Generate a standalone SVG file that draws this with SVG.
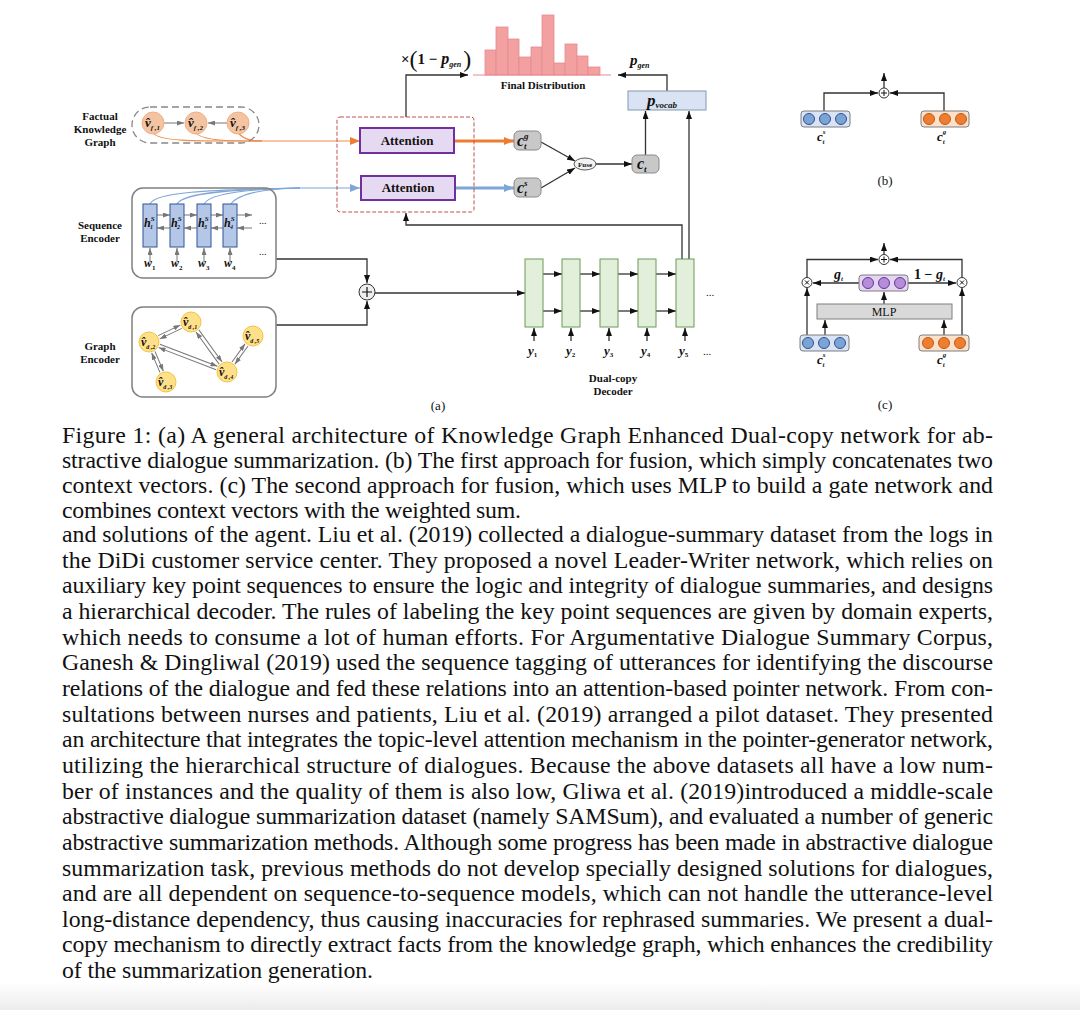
<svg xmlns="http://www.w3.org/2000/svg" width="1080" height="1010" viewBox="0 0 1080 1010">
<defs>
<linearGradient id="bg" x1="0" y1="0" x2="0" y2="1"><stop offset="0" stop-color="#ffffff"/><stop offset="1" stop-color="#ececec"/></linearGradient>
<marker id="ak" markerWidth="8" markerHeight="6" refX="8" refY="3" orient="auto" markerUnits="userSpaceOnUse"><path d="M0,0 L8,3 L0,6 z" fill="#111"/></marker>
<marker id="ag" markerWidth="7" markerHeight="5" refX="7" refY="2.5" orient="auto" markerUnits="userSpaceOnUse"><path d="M0,0 L7,2.5 L0,5 z" fill="#777"/></marker>
<marker id="ao" markerWidth="10" markerHeight="8" refX="10" refY="4" orient="auto" markerUnits="userSpaceOnUse"><path d="M0,0 L10,4 L0,8 z" fill="#ed7d31"/></marker>
<marker id="ab" markerWidth="10" markerHeight="8" refX="10" refY="4" orient="auto" markerUnits="userSpaceOnUse"><path d="M0,0 L10,4 L0,8 z" fill="#7fa6d8"/></marker>
</defs>
<style>
.t{font-family:"Liberation Serif","Times New Roman",serif;font-size:23.8px;fill:#111}
.lb{font-family:"Liberation Serif","Times New Roman",serif;font-weight:bold;font-size:11px;fill:#111;text-anchor:middle}
.att{font-family:"Liberation Serif",serif;font-weight:bold;font-size:13px;fill:#111;text-anchor:middle}
.mi{font-family:"Liberation Serif",serif;font-weight:bold;font-style:italic;fill:#111}
.rm{font-family:"Liberation Serif",serif;fill:#111}
.ln{fill:none;stroke:#333;stroke-width:1.3}
.lg{fill:none;stroke:#777;stroke-width:1}
.fk{fill:#f4c4a2;stroke:#f0b088;stroke-width:1}
.gd{fill:#ffe08a;stroke:#f2c43e;stroke-width:1}
.hc{fill:#b4c7e7;stroke:#2f5597;stroke-width:1}
.dc{fill:#e2efda;stroke:#6d9a57;stroke-width:1}
.gbox{fill:#c8c8c8;stroke:#8a8a8a;stroke-width:1}
.bar{fill:#f2a0a0;stroke:#e58a8f;stroke-width:0.8}
.attb{fill:#e6d9f2;stroke:#7030a0;stroke-width:2}
.vb{fill:#dae3f3;stroke:#7f7f7f;stroke-width:1}
.vo{fill:#fbe0cc;stroke:#7f7f7f;stroke-width:1}
.vp{fill:#e4d5f0;stroke:#7f7f7f;stroke-width:1}
.cb{fill:#7ba3d4;stroke:#2f5597;stroke-width:1}
.co{fill:#ed7d31;stroke:#c55a11;stroke-width:1}
.cp{fill:#b48fd8;stroke:#7030a0;stroke-width:1}
.op{fill:#fff;stroke:#333;stroke-width:1}
</style>
<rect x="0" y="0" width="1080" height="1010" fill="#fff"/>
<rect x="0" y="982" width="1080" height="28" fill="url(#bg)"/>

<g id="labels">
<text class="lb" x="100" y="120">Factual</text>
<text class="lb" x="100" y="133">Knowledge</text>
<text class="lb" x="100" y="146">Graph</text>
<text class="lb" x="100" y="229">Sequence</text>
<text class="lb" x="100" y="242">Encoder</text>
<text class="lb" x="100" y="350">Graph</text>
<text class="lb" x="100" y="363">Encoder</text>
<text class="lb" x="543" y="89">Final Distribution</text>
<text class="lb" x="613" y="382">Dual-copy</text>
<text class="lb" x="613" y="395">Decoder</text>
<text class="rm" x="438" y="410" font-size="13" text-anchor="middle">(a)</text>
<text class="rm" x="885" y="185" font-size="13" text-anchor="middle">(b)</text>
<text class="rm" x="885" y="409" font-size="13" text-anchor="middle">(c)</text>
</g>

<g id="connectors">
<path d="M153,133 C160,142 200,141 260,141 L360,141" fill="none" stroke="#ef8e4f" stroke-width="1.1" marker-end="url(#ao)"/>
<path d="M196,133 C203,141 230,141 262,141" fill="none" stroke="#ef8e4f" stroke-width="1.1"/>
<path d="M238,133 C245,140 252,141 262,141" fill="none" stroke="#ef8e4f" stroke-width="1.1"/>
<path d="M150,204 C156,190 230,190 300,188 L360,188" fill="none" stroke="#7fa6d8" stroke-width="1.1" marker-end="url(#ab)"/>
<path d="M177,204 C183,192 240,189 300,188" fill="none" stroke="#7fa6d8" stroke-width="1.1"/>
<path d="M204,204 C210,193 250,189 300,188" fill="none" stroke="#7fa6d8" stroke-width="1.1"/>
<path d="M231,204 C237,195 260,189 300,188" fill="none" stroke="#7fa6d8" stroke-width="1.1"/>
<line class="lg" x1="164" y1="123" x2="184" y2="123" marker-end="url(#ag)"/>
<line class="lg" x1="227" y1="123" x2="208" y2="123" marker-end="url(#ag)"/>
<line x1="454" y1="141" x2="514" y2="141" stroke="#ed7d31" stroke-width="3" marker-end="url(#ao)"/>
<line x1="455" y1="188" x2="514" y2="188" stroke="#7fa6d8" stroke-width="3" marker-end="url(#ab)"/>
<line class="ln" x1="541" y1="142" x2="575" y2="161" marker-end="url(#ak)"/>
<line class="ln" x1="541" y1="188" x2="575" y2="168" marker-end="url(#ak)"/>
<line class="ln" x1="596" y1="164" x2="632" y2="164" marker-end="url(#ak)"/>
<line class="ln" x1="645.5" y1="155" x2="645.5" y2="111" marker-end="url(#ak)"/>
<polyline class="ln" points="667,91 667,75 618,75" marker-end="url(#ak)"/>
<polyline class="ln" points="406,117 406,75 468,75" marker-end="url(#ak)"/>
<polyline class="ln" points="682,259 682,225 406,225 406,213" marker-end="url(#ak)"/>
<line class="ln" x1="689" y1="259" x2="689" y2="111" marker-end="url(#ak)"/>
<polyline class="ln" points="276,259 367,259 367,283" marker-end="url(#ak)"/>
<polyline class="ln" points="276,325 367,325 367,301" marker-end="url(#ak)"/>
<line class="ln" x1="375" y1="293" x2="525" y2="293" marker-end="url(#ak)"/>
<g class="lg">
<line x1="157" y1="215" x2="170" y2="215" marker-end="url(#ag)"/>
<line x1="184" y1="215" x2="197" y2="215" marker-end="url(#ag)"/>
<line x1="211" y1="215" x2="223" y2="215" marker-end="url(#ag)"/>
<line x1="237" y1="215" x2="252" y2="215" marker-end="url(#ag)"/>
<line x1="170" y1="228" x2="157" y2="228" marker-end="url(#ag)"/>
<line x1="197" y1="228" x2="184" y2="228" marker-end="url(#ag)"/>
<line x1="223" y1="228" x2="211" y2="228" marker-end="url(#ag)"/>
<line x1="252" y1="228" x2="237" y2="228" marker-end="url(#ag)"/>
<line x1="150" y1="262" x2="150" y2="248" marker-end="url(#ag)"/>
<line x1="177" y1="262" x2="177" y2="248" marker-end="url(#ag)"/>
<line x1="204" y1="262" x2="204" y2="248" marker-end="url(#ag)"/>
<line x1="230" y1="262" x2="230" y2="248" marker-end="url(#ag)"/>
</g>
<g class="ln">
<line x1="543" y1="274" x2="562" y2="274" marker-end="url(#ak)"/>
<line x1="580" y1="274" x2="600" y2="274" marker-end="url(#ak)"/>
<line x1="618" y1="274" x2="638" y2="274" marker-end="url(#ak)"/>
<line x1="656" y1="274" x2="676" y2="274" marker-end="url(#ak)"/>
<line x1="543" y1="311" x2="562" y2="311" marker-end="url(#ak)"/>
<line x1="580" y1="311" x2="600" y2="311" marker-end="url(#ak)"/>
<line x1="618" y1="311" x2="638" y2="311" marker-end="url(#ak)"/>
<line x1="656" y1="311" x2="676" y2="311" marker-end="url(#ak)"/>
<line x1="534" y1="341" x2="534" y2="328" marker-end="url(#ak)"/>
<line x1="571" y1="341" x2="571" y2="328" marker-end="url(#ak)"/>
<line x1="609" y1="341" x2="609" y2="328" marker-end="url(#ak)"/>
<line x1="647" y1="341" x2="647" y2="328" marker-end="url(#ak)"/>
<line x1="685" y1="341" x2="685" y2="328" marker-end="url(#ak)"/>
</g>
<g class="lg">
<g transform="translate(149,342) rotate(-25.5)"><line x1="11" y1="-1.8" x2="35.5" y2="-1.8" marker-end="url(#ag)"/><line x1="35.5" y1="1.8" x2="11" y2="1.8" marker-end="url(#ag)"/></g>
<g transform="translate(149,342) rotate(67)"><line x1="11" y1="-1.8" x2="32.5" y2="-1.8" marker-end="url(#ag)"/><line x1="32.5" y1="1.8" x2="11" y2="1.8" marker-end="url(#ag)"/></g>
<g transform="translate(149,342) rotate(21)"><line x1="11" y1="-1.8" x2="72.6" y2="-1.8" marker-end="url(#ag)"/><line x1="72.6" y1="1.8" x2="11" y2="1.8" marker-end="url(#ag)"/></g>
<g transform="translate(191,322) rotate(54.2)"><line x1="11" y1="-1.8" x2="50.6" y2="-1.8" marker-end="url(#ag)"/><line x1="50.6" y1="1.8" x2="11" y2="1.8" marker-end="url(#ag)"/></g>
<g transform="translate(227,372) rotate(-54.2)"><line x1="11" y1="-1.8" x2="33.4" y2="-1.8" marker-end="url(#ag)"/><line x1="33.4" y1="1.8" x2="11" y2="1.8" marker-end="url(#ag)"/></g>
</g>
<polyline class="ln" points="824,111 824,93 878,93" marker-end="url(#ak)"/>
<polyline class="ln" points="944,111 944,93 890,93" marker-end="url(#ak)"/>
<line class="ln" x1="884" y1="88" x2="884" y2="73" marker-end="url(#ak)"/>
<line class="ln" x1="884" y1="254" x2="884" y2="243" marker-end="url(#ak)"/>
<polyline class="ln" points="807,277 807,259.5 878,259.5" marker-end="url(#ak)"/>
<polyline class="ln" points="962,277 962,259.5 890,259.5" marker-end="url(#ak)"/>
<line class="ln" x1="859" y1="283" x2="813" y2="283" marker-end="url(#ak)"/>
<line class="ln" x1="908" y1="283" x2="956" y2="283" marker-end="url(#ak)"/>
<line class="ln" x1="884" y1="304" x2="884" y2="292" marker-end="url(#ak)"/>
<line class="ln" x1="807" y1="335" x2="807" y2="288" marker-end="url(#ak)"/>
<line class="ln" x1="825" y1="335" x2="825" y2="320" marker-end="url(#ak)"/>
<line class="ln" x1="944" y1="335" x2="944" y2="320" marker-end="url(#ak)"/>
<line class="ln" x1="962" y1="335" x2="962" y2="288" marker-end="url(#ak)"/>
</g>

<g id="final-distribution">
<rect class="bar" x="485" y="50" width="11" height="25"/>
<rect class="bar" x="496" y="27" width="12" height="48"/>
<rect class="bar" x="508" y="39" width="11" height="36"/>
<rect class="bar" x="519" y="57" width="12" height="18"/>
<rect class="bar" x="531" y="47" width="11" height="28"/>
<rect class="bar" x="542" y="15" width="12" height="60"/>
<rect class="bar" x="554" y="63" width="11" height="12"/>
<rect class="bar" x="565" y="44" width="12" height="31"/>
<rect class="bar" x="577" y="56" width="11" height="19"/>
<rect class="bar" x="588" y="67" width="12" height="8"/>
<line x1="473" y1="75" x2="611" y2="75" stroke="#e58a8f" stroke-width="1"/>
</g>
<g id="one-minus-pgen">
<text class="rm" x="401" y="64" font-size="15" font-weight="bold">×<tspan font-size="24" font-weight="normal" dy="3">(</tspan><tspan dy="-3">1 − </tspan><tspan font-style="italic" font-size="16">p</tspan><tspan font-style="italic" font-size="8" dy="3">gen</tspan><tspan font-size="24" font-weight="normal" dx="2">)</tspan></text>
</g>
<g id="pgen">
<text class="mi" x="630" y="65" font-size="15">p<tspan font-size="8" dy="3">gen</tspan></text>
</g>
<g id="pvocab">
<rect x="628" y="91" width="78" height="19" fill="#dae3f3" stroke="#8497b0" stroke-width="1"/>
<text class="mi" x="647" y="106" font-size="17">p<tspan font-size="9" dy="2">vocab</tspan></text>
</g>

<g id="attention-module">
<rect x="337" y="117" width="137" height="95" rx="3" fill="none" stroke="#c0504d" stroke-width="1" stroke-dasharray="4 2"/>
</g>
<g id="attention-graph">
<rect class="attb" x="360" y="128" width="94" height="25"/>
<text class="att" x="407" y="145">Attention</text>
</g>
<g id="attention-seq">
<rect class="attb" x="361" y="176" width="94" height="24"/>
<text class="att" x="408" y="192">Attention</text>
</g>
<g id="ctg">
<rect class="gbox" x="514" y="131" width="27" height="19" rx="5"/>
<text class="mi" x="517" y="146" font-size="16">c<tspan font-size="9" dy="-7">g</tspan><tspan font-size="9" dx="-4.5" dy="10">t</tspan></text>
</g>
<g id="cts">
<rect class="gbox" x="514" y="178" width="27" height="19" rx="5"/>
<text class="mi" x="517" y="193" font-size="16">c<tspan font-size="9" dy="-7">s</tspan><tspan font-size="9" dx="-3.5" dy="10">t</tspan></text>
</g>
<g id="fuse">
<ellipse cx="585" cy="164" rx="11" ry="6" fill="#f2f2f2" stroke="#333" stroke-width="0.8"/>
<text class="rm" x="585" y="166.5" font-size="7" font-weight="bold" text-anchor="middle">Fuse</text>
</g>
<g id="ct">
<rect class="gbox" x="632" y="155" width="27" height="18" rx="5"/>
<text class="mi" x="637" y="169" font-size="16">c<tspan font-size="9" dy="3">t</tspan></text>
</g>

<g id="factual-kg">
<rect x="132" y="107" width="127" height="36" rx="18" fill="none" stroke="#888" stroke-width="1.3" stroke-dasharray="7 4"/>
<circle class="fk" cx="153" cy="123" r="11"/>
<circle class="fk" cx="196" cy="123" r="11"/>
<circle class="fk" cx="238" cy="123" r="11"/>
<text class="mi" x="145" y="127" font-size="13">v̂<tspan font-size="7" dy="3">f ,1</tspan></text>
<text class="mi" x="188" y="127" font-size="13">v̂<tspan font-size="7" dy="3">f ,2</tspan></text>
<text class="mi" x="230" y="127" font-size="13">v̂<tspan font-size="7" dy="3">f ,3</tspan></text>
</g>

<g id="sequence-encoder">
<rect x="132" y="188" width="144" height="90" rx="11" fill="none" stroke="#808080" stroke-width="1.5"/>
<rect class="hc" x="143" y="204" width="14" height="43"/>
<rect class="hc" x="170" y="204" width="14" height="43"/>
<rect class="hc" x="197" y="204" width="14" height="43"/>
<rect class="hc" x="223" y="204" width="14" height="43"/>
<text class="mi" x="144" y="227" font-size="12">h<tspan font-size="7" dy="-6">S</tspan><tspan font-size="6" dx="-4.5" dy="8">1</tspan></text>
<text class="mi" x="171" y="227" font-size="12">h<tspan font-size="7" dy="-6">S</tspan><tspan font-size="6" dx="-4.5" dy="8">2</tspan></text>
<text class="mi" x="198" y="227" font-size="12">h<tspan font-size="7" dy="-6">S</tspan><tspan font-size="6" dx="-4.5" dy="8">3</tspan></text>
<text class="mi" x="224" y="227" font-size="12">h<tspan font-size="7" dy="-6">S</tspan><tspan font-size="6" dx="-4.5" dy="8">4</tspan></text>
<text class="mi" x="144" y="267" font-size="12">w<tspan font-size="7" font-style="normal" dy="3">1</tspan></text>
<text class="mi" x="171" y="267" font-size="12">w<tspan font-size="7" font-style="normal" dy="3">2</tspan></text>
<text class="mi" x="198" y="267" font-size="12">w<tspan font-size="7" font-style="normal" dy="3">3</tspan></text>
<text class="mi" x="224" y="267" font-size="12">w<tspan font-size="7" font-style="normal" dy="3">4</tspan></text>
<text class="rm" x="259" y="224" font-size="10">...</text>
<text class="rm" x="259" y="255" font-size="10">...</text>
</g>

<g id="graph-encoder">
<rect x="132" y="307" width="144" height="90" rx="11" fill="none" stroke="#808080" stroke-width="1.5"/>
<circle class="gd" cx="191" cy="322" r="10"/>
<circle class="gd" cx="149" cy="342" r="10"/>
<circle class="gd" cx="166" cy="382" r="10"/>
<circle class="gd" cx="227" cy="372" r="10"/>
<circle class="gd" cx="253" cy="336" r="10"/>
<text class="mi" x="183" y="326" font-size="12">v̂<tspan font-size="6" dy="3">d ,1</tspan></text>
<text class="mi" x="141" y="346" font-size="12">v̂<tspan font-size="6" dy="3">d ,2</tspan></text>
<text class="mi" x="158" y="386" font-size="12">v̂<tspan font-size="6" dy="3">d ,3</tspan></text>
<text class="mi" x="219" y="376" font-size="12">v̂<tspan font-size="6" dy="3">d ,4</tspan></text>
<text class="mi" x="245" y="340" font-size="12">v̂<tspan font-size="6" dy="3">d ,5</tspan></text>
</g>

<g id="plus">
<circle cx="367" cy="292" r="8" fill="#eee" stroke="#333" stroke-width="1"/>
<path d="M362,292 H372 M367,287 V297" stroke="#111" stroke-width="1.2"/>
</g>

<g id="decoder">
<rect class="dc" x="525" y="259" width="18" height="68"/>
<rect class="dc" x="562" y="259" width="18" height="68"/>
<rect class="dc" x="600" y="259" width="18" height="68"/>
<rect class="dc" x="638" y="259" width="18" height="68"/>
<rect class="dc" x="676" y="259" width="18" height="68"/>
<text class="rm" x="706" y="296" font-size="11">...</text>
<text class="mi" x="528" y="355" font-size="13">y<tspan font-size="7" font-style="normal" dy="2">1</tspan></text>
<text class="mi" x="566" y="355" font-size="13">y<tspan font-size="7" font-style="normal" dy="2">2</tspan></text>
<text class="mi" x="604" y="355" font-size="13">y<tspan font-size="7" font-style="normal" dy="2">3</tspan></text>
<text class="mi" x="641" y="355" font-size="13">y<tspan font-size="7" font-style="normal" dy="2">4</tspan></text>
<text class="mi" x="679" y="355" font-size="13">y<tspan font-size="7" font-style="normal" dy="2">5</tspan></text>
<text class="rm" x="703" y="355" font-size="11">...</text>
</g>

<g id="b-plus">
<circle class="op" cx="884" cy="93" r="5"/>
<path d="M881,93 H887 M884,90 V96" stroke="#111" stroke-width="1"/>
</g>
<g id="b-cs">
<rect class="vb" x="801" y="111" width="49" height="16" rx="3"/>
<circle class="cb" cx="809" cy="119" r="5.5"/><circle class="cb" cx="825" cy="119" r="5.5"/><circle class="cb" cx="841" cy="119" r="5.5"/>
<text class="mi" x="817" y="141" font-size="13">c<tspan font-size="7" dy="-7">s</tspan><tspan font-size="7" dx="-3" dy="10">t</tspan></text>
</g>
<g id="b-cg">
<rect class="vo" x="921" y="111" width="48" height="16" rx="3"/>
<circle class="co" cx="929" cy="119" r="5.5"/><circle class="co" cx="945" cy="119" r="5.5"/><circle class="co" cx="961" cy="119" r="5.5"/>
<text class="mi" x="937" y="141" font-size="13">c<tspan font-size="7" dy="-7">g</tspan><tspan font-size="7" dx="-3.5" dy="10">t</tspan></text>
</g>

<g id="c-plus">
<circle class="op" cx="884" cy="259.5" r="5"/>
<path d="M881,259.5 H887 M884,256.5 V262.5" stroke="#111" stroke-width="1"/>
</g>
<g id="c-times-left">
<circle class="op" cx="807" cy="282.5" r="5"/>
<path d="M805,280.5 L809,284.5 M809,280.5 L805,284.5" stroke="#111" stroke-width="1"/>
</g>
<g id="c-times-right">
<circle class="op" cx="962" cy="282.5" r="5"/>
<path d="M960,280.5 L964,284.5 M964,280.5 L960,284.5" stroke="#111" stroke-width="1"/>
</g>
<g id="c-gate">
<rect class="vp" x="859" y="275" width="49" height="16" rx="3"/>
<circle class="cp" cx="868" cy="283" r="5.5"/><circle class="cp" cx="884" cy="283" r="5.5"/><circle class="cp" cx="900" cy="283" r="5.5"/>
<text class="mi" x="834" y="279" font-size="14">g<tspan font-size="7" dy="2">t</tspan></text>
<text class="rm" x="914" y="279" font-size="14" font-weight="bold">1 − <tspan font-style="italic">g</tspan><tspan font-style="italic" font-size="7" dy="2">t</tspan></text>
</g>
<g id="c-mlp">
<rect x="817" y="304" width="135" height="15" fill="#d9d9d9" stroke="#7f7f7f" stroke-width="1"/>
<text class="rm" x="884" y="316" font-size="12" text-anchor="middle">MLP</text>
</g>
<g id="c-cs">
<rect class="vb" x="800" y="335" width="49" height="16" rx="3"/>
<circle class="cb" cx="808" cy="343" r="5.5"/><circle class="cb" cx="824" cy="343" r="5.5"/><circle class="cb" cx="840" cy="343" r="5.5"/>
<text class="mi" x="817" y="364" font-size="13">c<tspan font-size="7" dy="-7">s</tspan><tspan font-size="7" dx="-3" dy="10">t</tspan></text>
</g>
<g id="c-cg">
<rect class="vo" x="919" y="335" width="50" height="16" rx="3"/>
<circle class="co" cx="928" cy="343" r="5.5"/><circle class="co" cx="944" cy="343" r="5.5"/><circle class="co" cx="960" cy="343" r="5.5"/>
<text class="mi" x="937" y="364" font-size="13">c<tspan font-size="7" dy="-7">g</tspan><tspan font-size="7" dx="-3.5" dy="10">t</tspan></text>
</g>

<g id="text" class="t">
<text x="62" y="443" textLength="931" lengthAdjust="spacing">Figure 1: (a) A general architecture of Knowledge Graph Enhanced Dual-copy network for ab-</text>
<text x="62" y="468" textLength="931" lengthAdjust="spacing">stractive dialogue summarization. (b) The first approach for fusion, which simply concatenates two</text>
<text x="62" y="493" textLength="931" lengthAdjust="spacing">context vectors. (c) The second approach for fusion, which uses MLP to build a gate network and</text>
<text x="62" y="518" textLength="459" lengthAdjust="spacing">combines context vectors with the weighted sum.</text>
<text x="62" y="542" textLength="931" lengthAdjust="spacing">and solutions of the agent. Liu et al. (2019) collected a dialogue-summary dataset from the logs in</text>
<text x="62" y="567.7" textLength="931" lengthAdjust="spacing">the DiDi customer service center. They proposed a novel Leader-Writer network, which relies on</text>
<text x="62" y="593.3" textLength="931" lengthAdjust="spacing">auxiliary key point sequences to ensure the logic and integrity of dialogue summaries, and designs</text>
<text x="62" y="619" textLength="931" lengthAdjust="spacing">a hierarchical decoder. The rules of labeling the key point sequences are given by domain experts,</text>
<text x="62" y="644.6" textLength="931" lengthAdjust="spacing">which needs to consume a lot of human efforts. For Argumentative Dialogue Summary Corpus,</text>
<text x="62" y="670.3" textLength="931" lengthAdjust="spacing">Ganesh &amp; Dingliwal (2019) used the sequence tagging of utterances for identifying the discourse</text>
<text x="62" y="695.9" textLength="931" lengthAdjust="spacing">relations of the dialogue and fed these relations into an attention-based pointer network. From con-</text>
<text x="62" y="721.6" textLength="931" lengthAdjust="spacing">sultations between nurses and patients, Liu et al. (2019) arranged a pilot dataset. They presented</text>
<text x="62" y="747.2" textLength="931" lengthAdjust="spacing">an architecture that integrates the topic-level attention mechanism in the pointer-generator network,</text>
<text x="62" y="772.9" textLength="931" lengthAdjust="spacing">utilizing the hierarchical structure of dialogues. Because the above datasets all have a low num-</text>
<text x="62" y="798.5" textLength="931" lengthAdjust="spacing">ber of instances and the quality of them is also low, Gliwa et al. (2019)introduced a middle-scale</text>
<text x="62" y="824.2" textLength="931" lengthAdjust="spacing">abstractive dialogue summarization dataset (namely SAMSum), and evaluated a number of generic</text>
<text x="62" y="849.8" textLength="931" lengthAdjust="spacing">abstractive summarization methods. Although some progress has been made in abstractive dialogue</text>
<text x="62" y="875.5" textLength="931" lengthAdjust="spacing">summarization task, previous methods do not develop specially designed solutions for dialogues,</text>
<text x="62" y="901.1" textLength="931" lengthAdjust="spacing">and are all dependent on sequence-to-sequence models, which can not handle the utterance-level</text>
<text x="62" y="926.8" textLength="931" lengthAdjust="spacing">long-distance dependency, thus causing inaccuracies for rephrased summaries. We present a dual-</text>
<text x="62" y="952.4" textLength="931" lengthAdjust="spacing">copy mechanism to directly extract facts from the knowledge graph, which enhances the credibility</text>
<text x="62" y="978" textLength="311" lengthAdjust="spacing">of the summarization generation.</text>
</g>
</svg>
